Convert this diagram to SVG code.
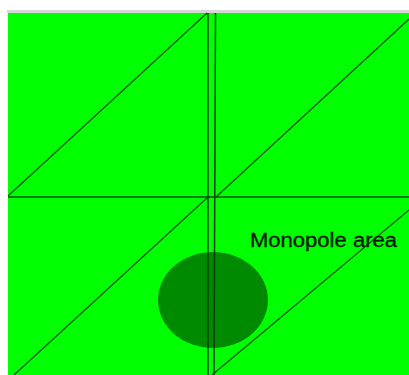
<svg xmlns="http://www.w3.org/2000/svg" width="409" height="375" viewBox="0 0 409 375">
<style>
.ln{stroke:#005500;stroke-width:1.3;fill:none}
.vl{stroke:#004000;stroke-width:1.5;fill:none}
.lbl{font-family:"Liberation Sans",Arial,sans-serif;font-size:20px;fill:#0a1a0a;stroke:#0a1a0a;stroke-width:0.35}
</style>
<rect x="0" y="0" width="409" height="375" fill="#ffffff"/>
<rect x="7" y="10" width="402" height="3" fill="#d6d6d6"/>
<rect id="field" x="8" y="13" width="401" height="362" fill="#00ff00"/>
<g id="diagonals">
<line class="ln" x1="8" y1="196" x2="207" y2="13"/>
<line class="ln" x1="216" y1="197" x2="409" y2="19"/>
<line class="ln" x1="208" y1="197" x2="14" y2="375"/>
<line class="ln" x1="409" y1="210" x2="212" y2="375"/>
</g>
<ellipse id="monopole" cx="213" cy="300" rx="55" ry="48" fill="#008a00"/>
<g id="grid">
<line class="ln" x1="8" y1="197" x2="409" y2="197" style="stroke-width:1.5"/>
<line class="vl" x1="208" y1="13" x2="208" y2="375"/>
<line class="vl" x1="215.5" y1="13" x2="214" y2="375"/>
</g>
<text class="lbl" x="250" y="247" textLength="147" lengthAdjust="spacingAndGlyphs">Monopole area</text>
</svg>
